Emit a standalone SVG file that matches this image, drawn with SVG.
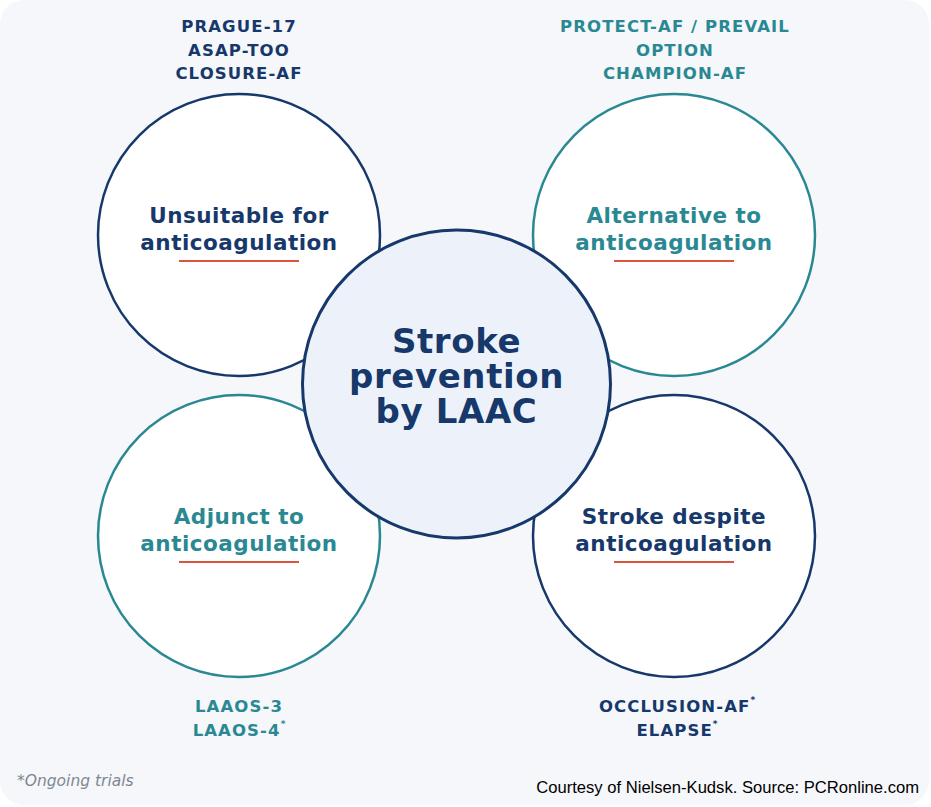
<svg xmlns="http://www.w3.org/2000/svg" width="931" height="807" viewBox="0 0 931 807">
<style>
.navy{fill:#16386a}
.teal{fill:#2a8893}
.lbl{font-family:"DejaVu Sans",sans-serif;font-weight:bold;font-size:21.5px;text-anchor:middle;letter-spacing:0.5px}
.trial{font-family:"DejaVu Sans",sans-serif;font-weight:bold;font-size:16.5px;text-anchor:middle;letter-spacing:1.1px}
.title{font-family:"DejaVu Sans",sans-serif;font-weight:bold;font-size:34px;text-anchor:middle;letter-spacing:0.6px}
.sup{font-size:9px;letter-spacing:0}
.ring{fill:#ffffff;stroke-width:2.5}
.rn{stroke:#16386a}
.rt{stroke:#2a8893}
.ul{stroke:#d9553f;stroke-width:2}
</style>
<rect x="0" y="0" width="929" height="805" rx="24" fill="#f5f7fa"/>
<g id="node-unsuitable">
<circle class="ring rn" cx="239" cy="235" r="141"/>
<text class="lbl navy" x="239" y="223">Unsuitable for</text>
<text class="lbl navy" x="239" y="250">anticoagulation</text>
<line class="ul" x1="179" y1="261" x2="299" y2="261"/>
<text class="trial navy" x="239" y="32">PRAGUE-17</text>
<text class="trial navy" x="239" y="55.5">ASAP-TOO</text>
<text class="trial navy" x="239" y="79">CLOSURE-AF</text>
</g>
<g id="node-alternative">
<circle class="ring rt" cx="674" cy="235" r="141"/>
<text class="lbl teal" x="674" y="223">Alternative to</text>
<text class="lbl teal" x="674" y="250">anticoagulation</text>
<line class="ul" x1="614" y1="261" x2="734" y2="261"/>
<text class="trial teal" x="675" y="32">PROTECT-AF / PREVAIL</text>
<text class="trial teal" x="675" y="55.5">OPTION</text>
<text class="trial teal" x="675" y="79">CHAMPION-AF</text>
</g>
<g id="node-adjunct">
<circle class="ring rt" cx="239" cy="536" r="141"/>
<text class="lbl teal" x="239" y="524">Adjunct to</text>
<text class="lbl teal" x="239" y="551">anticoagulation</text>
<line class="ul" x1="179" y1="562" x2="299" y2="562"/>
<text class="trial teal" x="239" y="712">LAAOS-3</text>
<text class="trial teal" x="239" y="736">LAAOS-4<tspan class="sup" dy="-9">*</tspan></text>
</g>
<g id="node-despite">
<circle class="ring rn" cx="674" cy="536" r="141"/>
<text class="lbl navy" x="674" y="524">Stroke despite</text>
<text class="lbl navy" x="674" y="551">anticoagulation</text>
<line class="ul" x1="614" y1="562" x2="734" y2="562"/>
<text class="trial navy" x="677" y="712">OCCLUSION-AF<tspan class="sup" dy="-9">*</tspan></text>
<text class="trial navy" x="677" y="736">ELAPSE<tspan class="sup" dy="-9">*</tspan></text>
</g>
<g id="node-center">
<circle cx="456.5" cy="384" r="154" fill="#edf2fa" stroke="#16386a" stroke-width="3"/>
<text class="title navy" x="456.5" y="353">Stroke</text>
<text class="title navy" x="456.5" y="388">prevention</text>
<text class="title navy" x="456.5" y="423">by LAAC</text>
</g>
<text x="17" y="786" font-family="DejaVu Sans, sans-serif" font-style="italic" font-size="15.5" fill="#7d8794">*Ongoing trials</text>
<text x="919" y="793" font-family="Liberation Sans, Arial, sans-serif" font-size="16.6" fill="#000000" text-anchor="end">Courtesy of Nielsen-Kudsk. Source: PCRonline.com</text>
</svg>
